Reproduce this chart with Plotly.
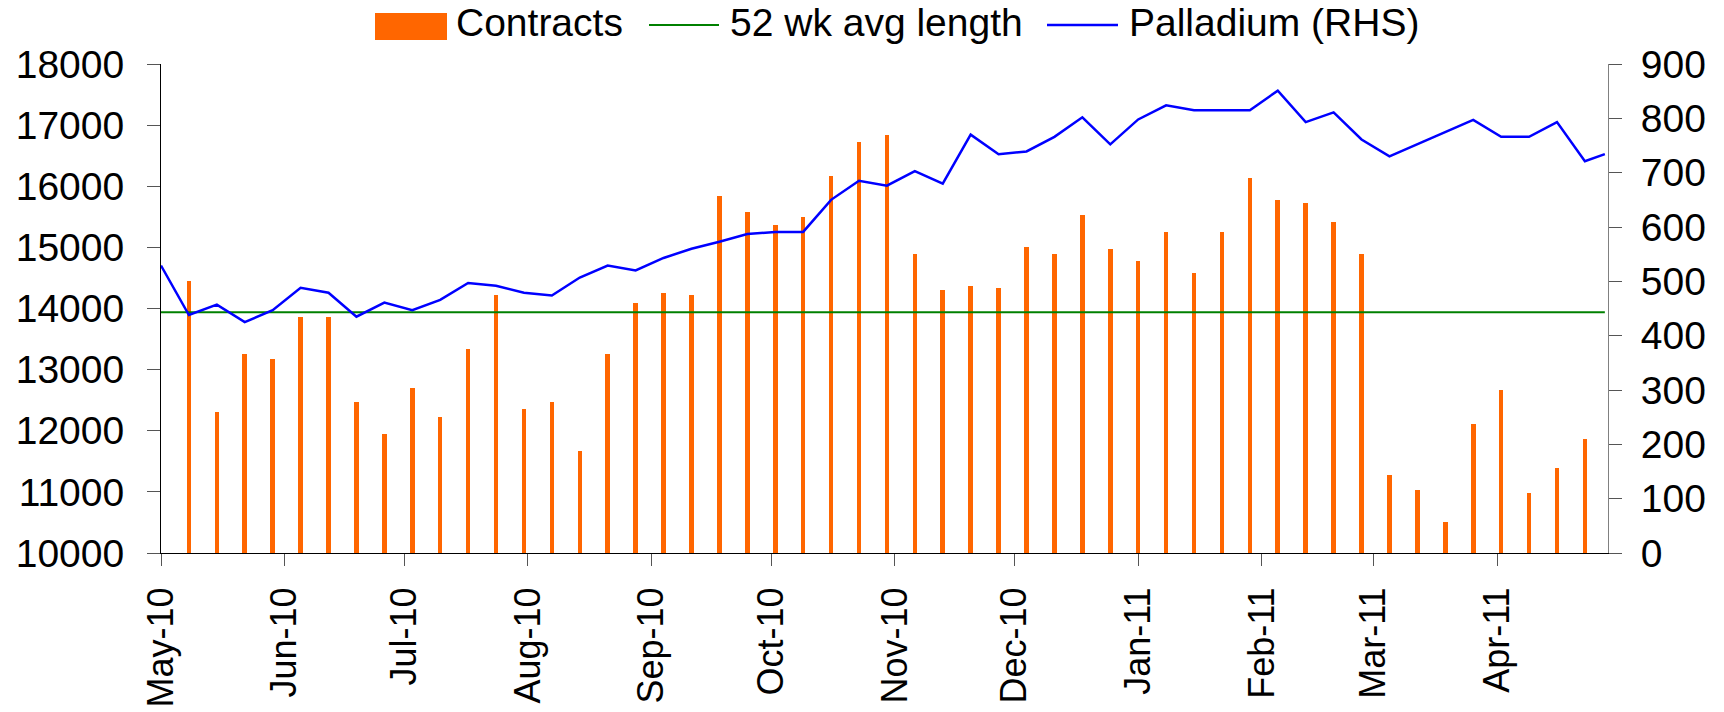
import plotly.graph_objects as go

# ---- data ----
bar_dates = [
    "2010-05-08", "2010-05-15", "2010-05-22", "2010-05-29",
    "2010-06-05", "2010-06-12", "2010-06-19", "2010-06-26",
    "2010-07-03", "2010-07-10", "2010-07-17", "2010-07-24", "2010-07-31",
    "2010-08-07", "2010-08-14", "2010-08-21", "2010-08-28",
    "2010-09-04", "2010-09-11", "2010-09-18", "2010-09-25",
    "2010-10-02", "2010-10-09", "2010-10-16", "2010-10-23", "2010-10-30",
    "2010-11-06", "2010-11-13", "2010-11-20", "2010-11-27",
    "2010-12-04", "2010-12-11", "2010-12-18", "2010-12-25",
    "2011-01-01", "2011-01-08", "2011-01-15", "2011-01-22", "2011-01-29",
    "2011-02-05", "2011-02-12", "2011-02-19", "2011-02-26",
    "2011-03-05", "2011-03-12", "2011-03-19", "2011-03-26",
    "2011-04-02", "2011-04-09", "2011-04-16", "2011-04-23",
]
contracts = [
    14452, 12310, 13258, 13177,
    13864, 13864, 12474, 11951,
    12703, 12229, 13340, 14223, 12354,
    12474, 11673, 13258, 14093,
    14256, 14223, 15842, 15581,
    15368, 15499, 16170, 16725, 16840,
    14894, 14305, 14370, 14338,
    15008, 14894, 15532, 14976,
    14779, 15253, 14583, 15253, 16137,
    15778, 15728, 15417, 14894,
    11268, 11035, 10512, 12114,
    12670, 10986, 11395, 11869,
]

line_dates = [
    "2010-05-01", "2010-05-08", "2010-05-15", "2010-05-22", "2010-05-29",
    "2010-06-05", "2010-06-12", "2010-06-19", "2010-06-26",
    "2010-07-03", "2010-07-10", "2010-07-17", "2010-07-24", "2010-07-31",
    "2010-08-07", "2010-08-14", "2010-08-21", "2010-08-28",
    "2010-09-04", "2010-09-11", "2010-09-18", "2010-09-25",
    "2010-10-02", "2010-10-09", "2010-10-16", "2010-10-23", "2010-10-30",
    "2010-11-06", "2010-11-13", "2010-11-20", "2010-11-27",
    "2010-12-04", "2010-12-11", "2010-12-18", "2010-12-25",
    "2011-01-01", "2011-01-08", "2011-01-15", "2011-01-22", "2011-01-29",
    "2011-02-05", "2011-02-12", "2011-02-19", "2011-02-26",
    "2011-03-05", "2011-03-12", "2011-03-19", "2011-03-26",
    "2011-04-02", "2011-04-09", "2011-04-16", "2011-04-23", "2011-04-28",
]
palladium = [
    529, 438, 457, 425, 447,
    488, 479, 435, 461,
    447, 466, 497, 492, 479,
    474, 507, 529, 520,
    543, 560, 573, 587,
    591, 591, 650, 685, 676,
    703, 680, 770, 734,
    739, 766, 802, 752,
    798, 824, 815, 815, 815,
    851, 793, 811, 761,
    730, 752, 775, 797,
    766, 766, 793, 721, 734,
]

avg_length = 13940  # 52 wk avg length (contracts)

series_names = ["Contracts", "52 wk avg length", "Palladium (RHS)"]
left_ticks = [10000, 11000, 12000, 13000, 14000, 15000, 16000, 17000, 18000]
left_labels = ["10000", "11000", "12000", "13000", "14000",
               "15000", "16000", "17000", "18000"]
right_ticks = [0, 100, 200, 300, 400, 500, 600, 700, 800, 900]
right_labels = ["0", "100", "200", "300", "400", "500", "600", "700", "800", "900"]

# ---- style ----
ORANGE = "#FF6600"
GREEN = "#008000"
BLUE = "#0000FF"
FONT = "Liberation Sans, Arial, sans-serif"
W, H = 1724, 712
ML, MR, MT, MB = 161, 116, 64, 159
DAY_MS = 86400000

fig = go.Figure()
fig.add_trace(go.Bar(
    x=bar_dates, y=contracts, name=series_names[0],
    marker=dict(color=ORANGE, line=dict(width=0)),
    width=1.15 * DAY_MS, yaxis="y", showlegend=False,
))
fig.add_trace(go.Scatter(
    x=[line_dates[0], line_dates[-1]], y=[avg_length, avg_length],
    name=series_names[1], mode="lines",
    line=dict(color=GREEN, width=2), yaxis="y", showlegend=False,
))
fig.add_trace(go.Scatter(
    x=line_dates, y=palladium, name=series_names[2], mode="lines",
    line=dict(color=BLUE, width=2.5), yaxis="y2", showlegend=False,
))

# ---- custom legend (paper coords from pixel positions) ----
pw = W - ML - MR
ph = H - MT - MB


def px(x):
    return (x - ML) / pw


def py(y):
    return (H - MB - y) / ph


fig.add_shape(type="rect", xref="paper", yref="paper",
              x0=px(375), x1=px(447), y0=py(40), y1=py(13),
              fillcolor=ORANGE, line=dict(width=0))
fig.add_shape(type="line", xref="paper", yref="paper",
              x0=px(649), x1=px(719), y0=py(25), y1=py(25),
              line=dict(color=GREEN, width=2))
fig.add_shape(type="line", xref="paper", yref="paper",
              x0=px(1047), x1=px(1118), y0=py(25), y1=py(25),
              line=dict(color=BLUE, width=2.5))
for name, xs in zip(series_names, [454, 728, 1127]):
    fig.add_annotation(xref="paper", yref="paper", x=px(xs), y=py(23),
                       xanchor="left", yanchor="middle", text=name,
                       showarrow=False,
                       font=dict(family=FONT, size=39, color="black"))

fig.update_layout(
    width=W, height=H,
    margin=dict(l=ML, r=MR, t=MT, b=MB, autoexpand=False),
    paper_bgcolor="white", plot_bgcolor="white",
    font=dict(family=FONT, color="black"),
    showlegend=False,
    bargap=0,
    xaxis=dict(
        type="date",
        range=["2010-05-01", "2011-04-28 19:00"],
        tick0="2010-05-01", dtick="M1", tickformat="%b-%y",
        tickangle=-90, tickfont=dict(size=36, family=FONT, color="black"),
        ticks="outside", ticklen=12, tickcolor="#555555", tickwidth=1,
        showline=True, linecolor="black", linewidth=1,
        showgrid=False, zeroline=False, automargin=False,
        ticklabelstandoff=7,
    ),
    yaxis=dict(
        range=[10000, 18000], tickvals=left_ticks, ticktext=left_labels,
        tickfont=dict(size=39, family=FONT, color="black"),
        ticks="outside", ticklen=13, tickcolor="#555555", tickwidth=1,
        showline=True, linecolor="black", linewidth=1,
        showgrid=False, zeroline=False, automargin=False,
        ticklabelstandoff=15,
    ),
    yaxis2=dict(
        range=[0, 900], tickvals=right_ticks, ticktext=right_labels,
        overlaying="y", side="right", anchor="x",
        tickfont=dict(size=39, family=FONT, color="black"),
        ticks="outside", ticklen=13, tickcolor="#555555", tickwidth=1,
        showline=True, linecolor="#808080", linewidth=1,
        showgrid=False, zeroline=False, automargin=False,
        ticklabelstandoff=11,
    ),
    yaxis3=dict(
        range=[0, 900], tickvals=right_ticks,
        overlaying="y", side="right", anchor="x",
        ticks="inside", ticklen=13, tickcolor="#555555", tickwidth=1,
        showticklabels=False, showline=False,
        showgrid=False, zeroline=False, automargin=False,
    ),
)

fig.write_html(
    "out.html",
    config={"displayModeBar": False},
    post_script="document.body.style.margin='0';document.body.style.overflow='hidden';",
)
